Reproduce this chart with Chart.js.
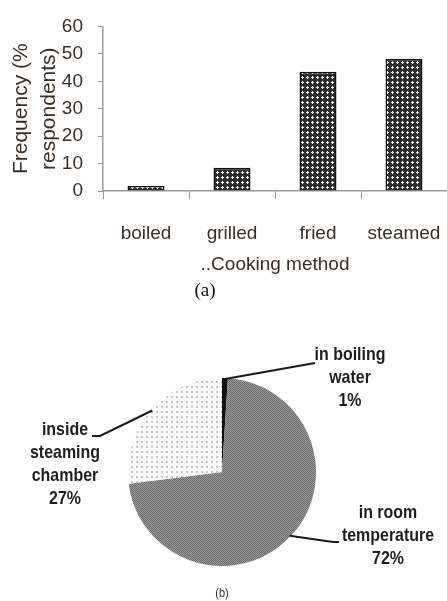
<!DOCTYPE html>
<html>
<head>
<meta charset="utf-8">
<script src="https://cdn.jsdelivr.net/npm/chart.js@4.4.1/dist/chart.umd.min.js"></script>
<style>
  body { margin: 0; background: #fff; width: 447px; height: 601px; position: relative; overflow: hidden; }
  #barBox { position: absolute; left: 0; top: 0; width: 447px; height: 300px; }
  #pieBox { position: absolute; left: 0; top: 300px; width: 447px; height: 301px; }
  .cap { position: absolute; transform: translate(-50%, -50%); white-space: nowrap; }
  #capA { left: 205px; top: 290px; font: 19px "Liberation Serif", serif; color: #111; }
  #capB { left: 222px; top: 592px; font: 13px "Liberation Sans", sans-serif; color: #333; transform: translate(-50%, -50%) scaleX(0.85); }
</style>
</head>
<body>
<div id="barBox"><canvas id="barChart" width="447" height="300"></canvas></div>
<div id="pieBox"><canvas id="pieChart" width="447" height="301"></canvas></div>
<div class="cap" id="capA">(a)</div>
<div class="cap" id="capB">(b)</div>
<script>
// (a) cooking method
const categories = ['boiled', 'grilled', 'fried', 'steamed'];
const frequency = [1.8, 8.5, 43.5, 48.2];
const yMax = 60;
const yStep = 10;

// (b) storage
const storageLabels = [['in boiling', 'water'], ['in room', 'temperature'], ['inside', 'steaming', 'chamber']];
const storageShare = [1, 72, 27];

const SANS = '"Liberation Sans", Arial, sans-serif';
const textColor = '#3a2f28';

function makePattern(size, bg, fg, cells) {
    const c = document.createElement('canvas');
    c.width = size; c.height = size;
    const g = c.getContext('2d');
    g.fillStyle = bg;
    g.fillRect(0, 0, size, size);
    g.fillStyle = fg;
    cells.forEach(p => g.fillRect(p[0], p[1], 1, 1));
    return g.createPattern(c, 'repeat');
}

const ctxBar = document.getElementById('barChart').getContext('2d');
const barFill = makePattern(5, '#2e2e2e', '#f4f4f4', [[2, 1], [1, 2], [2, 2], [3, 2], [2, 3]]);

new Chart(ctxBar, {
    type: 'bar',
    data: {
        labels: categories,
        datasets: [{
            data: frequency,
            backgroundColor: barFill,
            borderColor: '#111',
            borderWidth: 1.5,
            categoryPercentage: 1,
            barPercentage: 0.43
        }]
    },
    options: {
        responsive: false,
        animation: false,
        layout: { padding: { left: 8, top: 24, right: 0, bottom: 0 } },
        plugins: { legend: { display: false }, tooltip: { enabled: false } },
        scales: {
            y: {
                min: 0,
                max: yMax,
                afterFit: s => { s.width = 95; },
                ticks: { stepSize: yStep, color: textColor, padding: 15, font: { family: SANS, size: 19 } },
                grid: { drawOnChartArea: false, tickLength: 5, color: '#999' },
                border: { color: '#999', width: 1.5 },
                title: {
                    display: true,
                    text: ['Frequency (%', 'respondents)'],
                    color: textColor,
                    padding: 0,
                    font: { family: SANS, size: 21, lineHeight: 1.3 }
                }
            },
            x: {
                afterFit: s => { s.height = 109; s.paddingLeft = 0; s.paddingRight = 0; },
                ticks: { color: textColor, padding: 23, font: { family: SANS, size: 19 } },
                grid: { drawOnChartArea: false, offset: true, tickLength: 8, color: '#999' },
                border: { color: '#999', width: 1.5 },
                title: {
                    display: true,
                    text: '..Cooking method',
                    color: textColor,
                    padding: { top: 0, bottom: 24 },
                    font: { family: SANS, size: 19 }
                }
            }
        }
    }
});

// pie
const ctxPie = document.getElementById('pieChart').getContext('2d');
const roomFill = makePattern(4, '#9c9c9c', '#6a6a6a', [[0, 0], [2, 0], [1, 1], [3, 1], [0, 2], [2, 2], [1, 3], [3, 3]]);
const steamFill = (() => {
    const c = document.createElement('canvas');
    c.width = 5; c.height = 5;
    const g = c.getContext('2d');
    g.fillStyle = '#fcfcfc';
    g.fillRect(0, 0, 5, 5);
    g.fillStyle = '#c4c4c4';
    g.fillRect(1, 1, 2, 2);
    return g.createPattern(c, 'repeat');
})();

// leader elbow, end and text centre for each slice (canvas coords)
const labelLayout = [
    { elbow: [315, 63], end: [315, 63], tx: 350, ty: 55 },
    { elbow: [333, 242], end: [339, 242], tx: 388, ty: 213 },
    { elbow: [100, 136], end: [92, 136], tx: 65, ty: 130 }
];
const squeeze = 0.84;

const pieLabels = {
    id: 'pieLabels',
    afterDraw(chart) {
        const ctx = chart.ctx;
        const arcs = chart.getDatasetMeta(0).data;
        ctx.save();
        arcs.forEach((arc, i) => {
            const p = arc.getProps(['x', 'y', 'startAngle', 'endAngle', 'outerRadius'], true);
            const mid = (p.startAngle + p.endAngle) / 2;
            const sx = p.x + Math.cos(mid) * (p.outerRadius - 1);
            const sy = p.y + Math.sin(mid) * (p.outerRadius - 1);
            const L = labelLayout[i];
            ctx.strokeStyle = '#1a1a1a';
            ctx.lineWidth = 2;
            ctx.beginPath();
            ctx.moveTo(sx, sy);
            ctx.lineTo(L.elbow[0], L.elbow[1]);
            ctx.lineTo(L.end[0], L.end[1]);
            ctx.stroke();

            const lines = storageLabels[i].concat([storageShare[i] + '%']);
            ctx.save();
            ctx.translate(L.tx, 0);
            ctx.scale(squeeze, 1);
            ctx.fillStyle = '#1e1e1e';
            ctx.font = 'bold 19px ' + SANS;
            ctx.textAlign = 'center';
            ctx.textBaseline = 'middle';
            lines.forEach((t, k) => ctx.fillText(t, 0, L.ty + k * 23));
            ctx.restore();
        });
        ctx.restore();
    }
};

new Chart(ctxPie, {
    type: 'pie',
    data: {
        labels: storageLabels.map(l => l.join(' ')),
        datasets: [{
            data: storageShare,
            backgroundColor: ['#111', roomFill, steamFill],
            borderWidth: 0,
            hoverOffset: 0
        }]
    },
    options: {
        responsive: false,
        animation: false,
        layout: { padding: { left: 128, right: 131, top: 78, bottom: 35 } },
        plugins: { legend: { display: false }, tooltip: { enabled: false } }
    },
    plugins: [pieLabels]
});
</script>
</body>
</html>
